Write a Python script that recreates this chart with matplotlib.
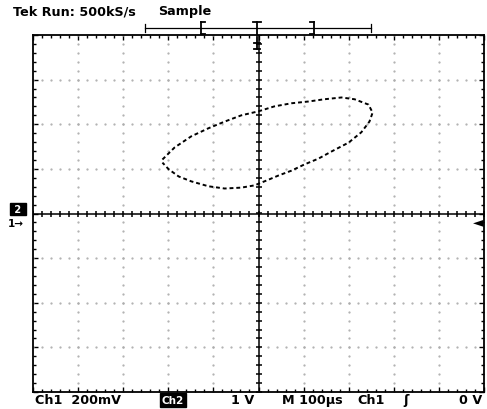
import numpy as np
import matplotlib
matplotlib.use("Agg")
import matplotlib.pyplot as plt
from matplotlib.ticker import MultipleLocator

# XY trace, in divisions (0,0 = screen centre)
trace_x = [-2.13, -1.86, -1.49, -1.11, -0.75, -0.38, 0.00, 0.35, 0.73, 1.11, 1.46, 1.84,
           2.13, 2.44, 2.53, 2.46, 2.28, 2.00, 1.62, 1.33, 1.02, 0.73, 0.44, 0.18,
           -0.09, -0.38, -0.75, -1.11, -1.49, -1.77, -1.99, -2.13]
trace_y = [1.21, 1.48, 1.73, 1.91, 2.06, 2.20, 2.29, 2.40, 2.47, 2.51, 2.56, 2.60,
           2.56, 2.44, 2.26, 2.06, 1.82, 1.59, 1.39, 1.23, 1.10, 0.96, 0.85, 0.74,
           0.63, 0.58, 0.56, 0.61, 0.72, 0.83, 0.99, 1.14]

header = "Tek Run: 500kS/s"
mode = "Sample"
ch1_scale = "Ch1  200mV"
ch2_label = "Ch2"
ch2_scale = "1 V"
timebase = "M 100\u00b5s"
trig_src = "Ch1"
trig_level = "0 V"

W, H = 487, 410
fig = plt.figure(figsize=(W / 100, H / 100), dpi=100)
fig.patch.set_facecolor("white")

# graticule box in pixels
left, right, top, bottom = 33, 484, 36, 393
ax = fig.add_axes([left / W, 1 - bottom / H, (right - left) / W, (bottom - top) / H])
ax.set_xlim(-5, 5)
ax.set_ylim(-4, 4)
for s in ax.spines.values():
    s.set_linewidth(1.3)
    s.set_color("black")

ax.xaxis.set_major_locator(MultipleLocator(1))
ax.yaxis.set_major_locator(MultipleLocator(1))
ax.xaxis.set_minor_locator(MultipleLocator(0.2))
ax.yaxis.set_minor_locator(MultipleLocator(0.2))
ax.tick_params(which="both", direction="in", top=True, right=True,
               labelbottom=False, labelleft=False, width=1, color="black")
ax.tick_params(which="major", length=3.5)
ax.tick_params(which="minor", length=2.5)

# faint dotted grid
fine = np.arange(-5, 5.01, 0.2)
finey = np.arange(-4, 4.01, 0.2)
for g in range(-4, 5):
    if g != 0:
        ax.plot([g] * len(finey), finey, ls="none", marker="o", ms=0.6, color="0.68")
for g in range(-3, 4):
    if g != 0:
        ax.plot(fine, [g] * len(fine), ls="none", marker="o", ms=0.6, color="0.68")

# centre axes with cross ticks
ax.axhline(0, color="black", lw=1.1)
ax.axvline(0, color="black", lw=1.1)
ax.plot(fine, np.zeros_like(fine), ls="none", marker="|", ms=5, mew=1.1, color="black")
ax.plot(np.zeros_like(finey), finey, ls="none", marker="_", ms=5, mew=1.1, color="black")

# the Lissajous trace
ax.plot(trace_x, trace_y, color="black", lw=1.4, ls=(0, (2.0, 1.5)))

# header text
fkw = dict(family="DejaVu Sans", weight="bold", fontsize=9.2, color="black")
fig.text(13 / W, 1 - 12 / H, header, ha="left", va="center", **fkw)
fig.text(158 / W, 1 - 12 / H, mode, ha="left", va="center", **fkw)

# record/trigger position bar above the screen
def seg(x0, y0, x1, y1, lw=0.9):
    fig.add_artist(plt.Line2D([x0 / W, x1 / W], [1 - y0 / H, 1 - y1 / H], color="black", lw=lw))

seg(145, 29, 371, 29)
for xp in (145, 371):
    seg(xp, 25, xp, 33)
# brackets showing the visible part of the record
seg(201, 23, 201, 35, 1.3)
seg(201, 23, 205, 23, 1.3)
seg(201, 35, 205, 35, 1.3)
seg(314, 23, 314, 35, 1.3)
seg(314, 23, 310, 23, 1.3)
seg(314, 35, 310, 35, 1.3)
# trigger point
seg(257, 23, 257, 35, 1.3)
seg(253, 23, 261, 23, 1.3)
seg(257, 38, 257, 50, 1.3)
seg(254, 44, 260, 44, 1.3)
seg(254, 50, 260, 50, 1.3)

# channel markers
fig.text(18 / W, 1 - 210 / H, " 2 ", ha="center", va="center", fontsize=7, weight="bold",
         color="white", bbox=dict(boxstyle="square,pad=0.15", fc="black", ec="black"))
fig.text(16 / W, 1 - 224 / H, "1\u2192", ha="center", va="center", fontsize=7.5,
         weight="bold", color="black")
fig.text(478 / W, 1 - 222 / H, "\u25c4", ha="center", va="center", fontsize=10, color="black")

# bottom status line
by = 1 - 401 / H
fig.text(35 / W, by, ch1_scale, ha="left", va="center", **fkw)
fig.text(173 / W, by, ch2_label, ha="center", va="center", family="DejaVu Sans",
         weight="bold", fontsize=7.5, color="white",
         bbox=dict(boxstyle="square,pad=0.2", fc="black", ec="black"))
fig.text(243 / W, by, ch2_scale, ha="center", va="center", **fkw)
fig.text(282 / W, by, timebase, ha="left", va="center", **fkw)
fig.text(357 / W, by, trig_src, ha="left", va="center", **fkw)
fig.text(406 / W, by, "\u0283", ha="center", va="center", **fkw)
fig.text(482 / W, by, trig_level, ha="right", va="center", **fkw)

fig.savefig("out.png", dpi=100, facecolor="white")
